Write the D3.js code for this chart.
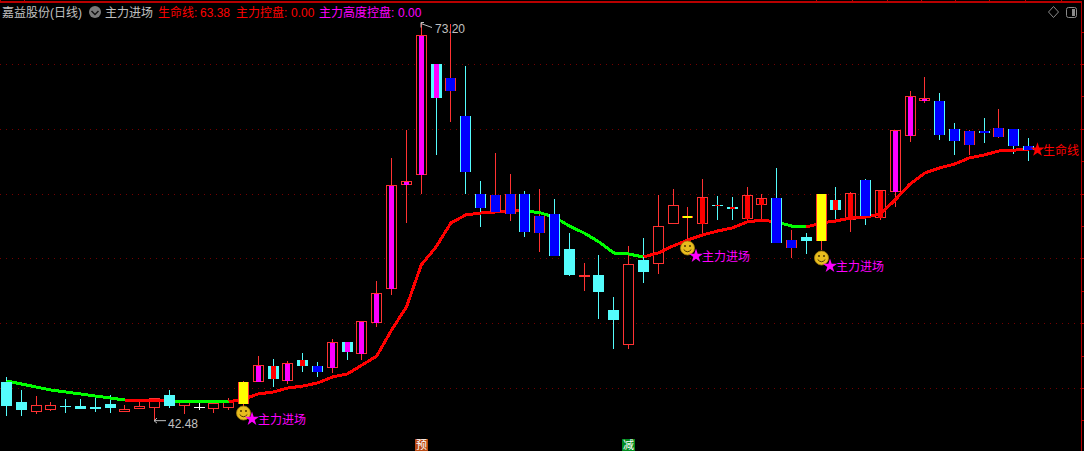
<!DOCTYPE html>
<html>
<head>
<meta charset="utf-8">
<script src="https://cdn.jsdelivr.net/npm/d3@7"></script>
<style>
  html, body { margin: 0; padding: 0; background: #000; overflow: hidden; }
  svg { display: block; }
  text { font-family: "Liberation Sans", "Noto Sans CJK SC", sans-serif; font-size: 12px; }
</style>
</head>
<body>
<svg id="chart" width="1084" height="451"></svg>
<script>
// daily bars
const opens = [45.46,43.92,43.23,43.38,43.61,43.61,43.53,43.77,43.23,43.46,43.53,44.46,43.69,43.53,43.46,43.53,43.77,45.54,46.70,45.62,47.16,46.70,46.62,48.55,47.70,50.09,52.72,60.74,61.51,70.00,68.92,65.99,59.97,59.89,59.97,59.97,58.27,58.43,55.73,53.64,53.72,51.02,48.40,54.88,54.65,57.73,58.12,57.73,59.12,58.97,58.12,59.20,59.66,56.42,56.65,56.34,59.51,58.04,61.05,58.19,60.20,64.52,67.22,67.15,64.98,64.83,64.83,65.06,64.98,63.67];
const closes = [43.61,43.30,43.69,43.69,43.53,43.38,43.38,43.46,43.38,43.61,44.23,43.61,44.00,43.46,43.84,43.92,45.46,46.77,45.69,46.93,46.70,46.23,48.55,47.78,50.17,52.33,60.66,60.97,72.24,67.38,67.92,61.67,58.89,58.58,58.43,57.04,56.96,55.19,53.72,53.72,52.41,50.25,54.57,53.95,57.50,59.12,58.27,59.74,59.04,58.81,59.89,59.66,56.19,55.80,56.34,59.97,58.73,60.05,58.27,60.28,64.91,67.53,67.38,64.52,64.06,63.75,64.68,64.37,63.67,63.36];
const highs = [45.85,44.85,44.38,43.92,44.15,44.15,44.23,44.46,43.69,44.00,44.23,44.85,44.00,43.84,43.84,44.23,45.54,47.47,47.24,47.08,47.70,47.01,48.78,48.55,50.17,53.26,62.75,64.91,73.20,70.00,73.09,69.85,60.97,63.13,61.51,60.20,60.35,59.58,56.96,54.65,55.26,52.02,55.96,56.57,59.89,60.35,58.97,61.13,59.81,59.74,60.51,59.97,61.98,57.19,56.96,59.97,60.51,60.12,61.13,60.28,64.91,67.92,69.00,67.76,65.45,64.91,65.83,66.53,64.98,64.29];
const lows = [42.84,42.84,42.99,43.23,43.07,43.38,43.15,43.07,43.23,43.38,42.48,43.46,42.99,43.30,43.07,43.30,43.53,45.54,45.08,45.31,46.23,45.85,46.16,47.16,47.16,49.71,52.18,57.73,59.97,62.98,65.52,59.97,57.42,58.58,57.89,56.65,55.49,55.19,53.64,52.48,50.32,48.01,48.01,53.10,53.80,57.73,56.27,56.81,57.96,57.96,57.73,57.96,56.19,55.03,55.34,55.65,57.96,57.04,57.58,57.96,58.97,63.98,66.99,64.14,62.98,62.98,63.90,64.29,63.06,62.52];

// how each bar is painted
const barKinds = ["down","down","up","up","down","down","down","down","up","up","up","down","up","white","up","up","yellow","mag","cyanRed","mag","cyanRed","blueCyan","mag","cyanMag","mag","mag","mag","mag","mag","cyanMag","blueRed","blueCyan","blueCyan","blueRed","blueRed","blueCyan","blueRed","blueCyan","down","up","down","down","up","down","up","up","yellow","redFill","cyanRed","cyanRed","redFill","redFill","blueCyan","blueRed","down","yellow","cyanRed","redFill","blueCyan","redFill","mag","mag","mag","blueCyan","blueCyan","blueRed","blueCyan","blueRed","blueCyan","blueCyan"];

// 生命线
const lifeLine = [45.54,45.31,45.08,44.85,44.69,44.54,44.38,44.23,44.07,44.00,44.00,44.00,43.92,43.92,43.92,43.92,44.15,44.54,44.69,45.00,45.15,45.39,45.85,46.08,46.77,47.47,49.48,51.25,54.49,55.88,57.73,58.35,58.50,58.58,58.66,58.66,58.53,58.19,57.50,56.96,56.27,55.42,55.34,55.11,55.42,55.96,56.42,56.81,57.11,57.35,57.81,57.96,57.81,57.50,57.42,57.73,57.89,58.12,58.19,58.43,59.51,60.74,61.59,61.98,62.28,62.75,62.98,63.29,63.36,63.38];
const greenStretches = [[0,8],[11,15],[35,43],[52,54]];

const entryBars = [16, 46, 55];
const smileyPrices = [43.07, 55.80, 55.03];
const entryPrices = [42.61, 55.19, 54.41];
const gridPrices = [45, 50, 55, 60, 65, 70];
const rightTicks = [42.5,45,47.5,50,52.5,55,57.5,60,62.5,65,67.5,70,72.5,75];
const topTickBars = [-0.4,1.2,54.7,57.1,59.5,61.8,64.1,66.4,68.8,71.2];

const width = 1084, height = 451;
const red = "#ff3232", lineRed = "#ff0000", cyan = "#54fcfc", magenta = "#ff00ff",
      blue = "#0000ff", yellow = "#ffff00", green = "#00ff00", grey = "#c0c0c0",
      axisRed = "#b80000";

const svg = d3.select("#chart");
const bars = d3.range(opens.length);

const x = d3.scaleLinear().domain([0, 69]).range([6, 1028]);
const y = d3.scaleLinear().domain([45, 70]).range([388, 64]);
const px = i => Math.round(x(i));
const py = v => Math.round(y(v));

// frame: top and right axes only carry ticks, no labels
const frame = svg.append("g").attr("shape-rendering", "crispEdges");
frame.append("g").attr("transform", "translate(1081,0)")
  .call(d3.axisRight(y).tickValues(rightTicks).tickSize(3).tickSizeOuter(0).tickFormat(""));
frame.append("g").attr("transform", "translate(0,2)")
  .call(d3.axisTop(x).tickValues(topTickBars).tickSize(2).tickSizeOuter(0).tickFormat(""));
frame.selectAll(".domain").remove();
frame.selectAll("line").attr("stroke", axisRed);
frame.append("rect").attr("x", 0).attr("y", 1).attr("width", 1082).attr("height", 2).attr("fill", axisRed);
frame.append("line").attr("x1", 1081.5).attr("x2", 1081.5).attr("y1", 2).attr("y2", height)
  .attr("stroke", axisRed);

// dotted price grid
svg.append("g").selectAll("line").data(gridPrices).enter().append("line")
  .attr("x1", 0).attr("x2", 1081)
  .attr("y1", d => py(d) + 0.5).attr("y2", d => py(d) + 0.5)
  .attr("stroke", "#740000")
  .attr("stroke-dasharray", "1 5");

const candles = svg.append("g").attr("shape-rendering", "crispEdges");

const wickColor = i => {
  const k = barKinds[i];
  if (k === "white") return "#ffffff";
  if (k === "down" || k === "cyanRed" || k === "cyanMag" || k === "blueCyan") return cyan;
  return red;
};

candles.selectAll(".wick").data(bars).enter().append("line")
  .attr("class", "wick")
  .attr("x1", i => px(i) + 0.5).attr("x2", i => px(i) + 0.5)
  .attr("y1", i => py(highs[i])).attr("y2", i => py(lows[i]))
  .attr("stroke", wickColor);

const bodyTop = i => py(Math.max(opens[i], closes[i]));
const bodyH = i => Math.max(1, py(Math.min(opens[i], closes[i])) - bodyTop(i));

// hollow red boxes go under the line, everything solid goes over it
const hollowKinds = ["up", "mag", "redFill"];
candles.selectAll(".hollow").data(bars.filter(i => hollowKinds.includes(barKinds[i]))).enter().append("rect")
  .attr("class", "hollow")
  .attr("x", i => px(i) - 5 + 0.5).attr("width", 10)
  .attr("y", i => bodyTop(i) + 0.5).attr("height", bodyH)
  .attr("fill", "#000").attr("stroke", red);

// life line, split where its colour flips
const isGreen = i => greenStretches.some(s => i >= s[0] && i < s[1]);
const lifePath = d3.line().x(i => x(i) + 0.5).y(i => y(lifeLine[i]));
const lineG = svg.append("g").attr("shape-rendering", "crispEdges");
let start = 0;
for (let i = 1; i < lifeLine.length; i++) {
  if (i === lifeLine.length - 1 || isGreen(i) !== isGreen(start)) {
    lineG.append("path")
      .attr("d", lifePath(d3.range(start, i + 1)))
      .attr("fill", "none")
      .attr("stroke", isGreen(start) ? green : lineRed)
      .attr("stroke-width", 3);
    start = i;
  }
}

const solid = svg.append("g").attr("shape-rendering", "crispEdges");

const outerFill = { down: cyan, cyanRed: cyan, cyanMag: cyan, blueCyan: cyan, blueRed: red, yellow: red, white: "#ffffff" };
const innerFill = { mag: magenta, cyanMag: magenta, cyanRed: lineRed, redFill: lineRed, blueCyan: blue, blueRed: blue, yellow: yellow };
const innerHalf = { mag: 2, cyanMag: 2, cyanRed: 2, redFill: 2, blueCyan: 4, blueRed: 4, yellow: 4 };

solid.selectAll(".outer").data(bars.filter(i => outerFill[barKinds[i]])).enter().append("rect")
  .attr("class", "outer")
  .attr("x", i => px(i) - 5).attr("width", 11)
  .attr("y", bodyTop).attr("height", bodyH)
  .attr("fill", i => outerFill[barKinds[i]]);

solid.selectAll(".inner").data(bars.filter(i => innerFill[barKinds[i]])).enter().append("rect")
  .attr("class", "inner")
  .attr("x", i => px(i) - innerHalf[barKinds[i]])
  .attr("width", i => innerHalf[barKinds[i]] * 2 + 1)
  .attr("y", i => bodyTop(i) + (hollowKinds.includes(barKinds[i]) ? 1 : 0))
  .attr("height", bodyH)
  .attr("fill", i => innerFill[barKinds[i]]);

// header
const headerItems = [
  { label: "嘉益股份(日线)", at: 2, color: grey },
  { label: "主力进场", at: 105, color: grey },
  { label: "生命线:", at: 158, color: lineRed },
  { label: "63.38", at: 200, color: lineRed },
  { label: "主力控盘:", at: 236, color: lineRed },
  { label: "0.00", at: 291, color: lineRed },
  { label: "主力高度控盘:", at: 319, color: magenta },
  { label: "0.00", at: 398, color: magenta }
];
svg.selectAll(".head").data(headerItems).enter().append("text")
  .attr("class", "head")
  .attr("x", d => d.at).attr("y", 17)
  .attr("fill", d => d.color)
  .text(d => d.label);

// chevron button next to the name
svg.append("circle").attr("cx", 95).attr("cy", 12).attr("r", 6).attr("fill", "#7a7a7a");
svg.append("path").attr("d", "M91.5,11 L95,14.5 L98.5,11").attr("fill", "none")
  .attr("stroke", "#111").attr("stroke-width", 1.5);

// top right buttons
svg.append("path").attr("d", "M1053.5,6.5 L1058.5,12 L1053.5,17.5 L1048.5,12 Z")
  .attr("fill", "none").attr("stroke", "#8a8a8a");
svg.append("rect").attr("x", 1066.5).attr("y", 7.5).attr("width", 10).attr("height", 10).attr("rx", 2)
  .attr("fill", "none").attr("stroke", "#8a8a8a");
svg.append("rect").attr("x", 1072).attr("y", 9).attr("width", 3).attr("height", 7).attr("fill", "#8a8a8a");

// high / low flags
const flags = svg.append("g");
flags.append("path").attr("d", `M${px(28)},${y(73.2) + 5} V${y(73.2)} H${px(28) + 3} M${px(28)},${y(73.2) + 1} L${px(28) + 11},${y(73.2) + 5}`)
  .attr("fill", "none").attr("stroke", grey);
flags.append("text").attr("x", px(28) + 14).attr("y", y(73.2) + 10).attr("fill", grey).text("73.20");
flags.append("path").attr("d", `M${px(10)},${y(42.48)} H${px(10) + 12} M${px(10) + 3},${y(42.48) - 2.5} L${px(10)},${y(42.48)} L${px(10) + 3},${y(42.48) + 2.5}`)
  .attr("fill", "none").attr("stroke", grey);
flags.append("text").attr("x", px(10) + 14).attr("y", y(42.48) + 7).attr("fill", grey).text("42.48");

// 主力进场 markers
const star = d3.symbol().type(d3.symbolStar).size(62);
entryBars.forEach((bar, n) => {
  const cx = px(bar) + 0.5, cy = py(smileyPrices[n]);
  const face = svg.append("g").attr("transform", `translate(${cx},${cy})`);
  face.append("circle").attr("r", 7).attr("fill", "#e8bd1e").attr("stroke", "#a8800f").attr("stroke-width", 0.8);
  face.append("circle").attr("cx", -2.5).attr("cy", -2).attr("r", 1).attr("fill", "#4a3500");
  face.append("circle").attr("cx", 2.5).attr("cy", -2).attr("r", 1).attr("fill", "#4a3500");
  face.append("path").attr("d", "M-3.8,1.5 Q0,6 3.8,1.5").attr("fill", "none").attr("stroke", "#4a3500").attr("stroke-width", 1);
  svg.append("path").attr("d", star())
    .attr("transform", `translate(${cx + 8.5},${py(entryPrices[n])})`)
    .attr("fill", magenta);
  svg.append("text").attr("x", cx + 14.5).attr("y", py(entryPrices[n]) + 5)
    .attr("fill", magenta).text("主力进场");
});

// 生命线 end label
svg.append("path").attr("d", star())
  .attr("transform", `translate(${px(69) + 9.5},${y(lifeLine[69])})`)
  .attr("fill", lineRed);
svg.append("text").attr("x", px(69) + 15).attr("y", y(lifeLine[69]) + 5)
  .attr("fill", lineRed).text("生命线");

// signal tags on the bottom edge
const tagBars = [28, 42];
const tagTexts = ["预", "减"];
const tagColors = ["#b84a14", "#008a1e"];
tagBars.forEach((bar, n) => {
  svg.append("rect").attr("x", px(bar) - 6).attr("y", 439).attr("width", 13).attr("height", 12)
    .attr("fill", tagColors[n]);
  svg.append("text").attr("x", px(bar) + 0.5).attr("y", 449).attr("text-anchor", "middle")
    .style("font-size", "11px")
    .attr("fill", "#fff").text(tagTexts[n]);
});
</script>
</body>
</html>
